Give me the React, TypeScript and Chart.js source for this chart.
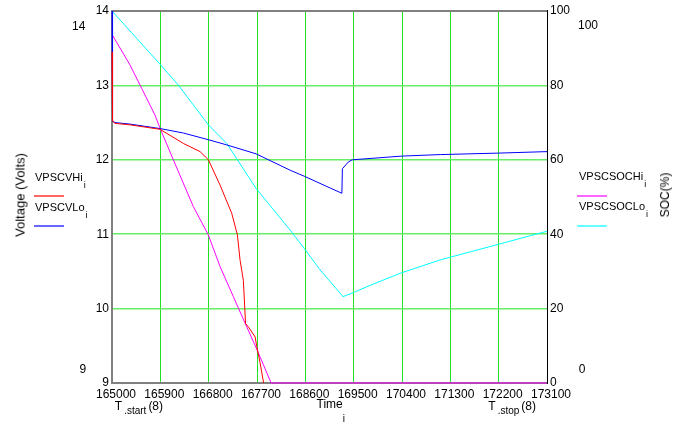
import React, { useEffect, useRef } from "react";
import { Chart, registerables } from "chart.js";

Chart.register(...registerables);

const FONT = '"Liberation Sans", Arial, Helvetica, sans-serif';

// Axis ranges
const timeMin = 165000;
const timeMax = 173100;
const timeStep = 900;
const voltMin = 9;
const voltMax = 14;
const voltStep = 1;
const socMin = 0;
const socMax = 100;
const socStep = 20;

// VPSCVHi (V) over time (s)
const vHiTime = [165000, 165010, 165056, 165335, 165520, 165894, 166329, 166640, 166795, 167012, 167230, 167335, 167385, 167446, 167487, 167553, 167665, 167696, 167758, 167823];
const vHiVolts = [13.45, 12.52, 12.49, 12.47, 12.45, 12.41, 12.22, 12.11, 12.0, 11.66, 11.28, 10.99, 10.65, 10.38, 9.8, 9.74, 9.62, 9.49, 9.27, 9.0];

// VPSCVLo (V) over time (s)
const vLoTime = [165000, 165010, 165056, 165335, 165894, 166329, 166794, 167137, 167683, 168317, 168578, 169065, 169281, 169290, 169400, 169472, 170400, 171112, 172200, 173100];
const vLoVolts = [14.0, 12.52, 12.5, 12.48, 12.42, 12.36, 12.27, 12.2, 12.08, 11.86, 11.78, 11.62, 11.55, 11.88, 11.97, 12.0, 12.05, 12.07, 12.09, 12.11];

// VPSCSOCHi (%) over time (s)
const socHiTime = [165000, 165335, 165553, 165801, 165894, 166142, 166515, 166794, 167012, 167260, 167478, 167702, 167963, 173100];
const socHiPct = [93.7, 85.5, 79.2, 72.0, 68.5, 60.0, 47.4, 39.8, 31.3, 23.2, 16.1, 8.9, 0, 0];

// VPSCSOCLo (%) over time (s)
const socLoTime = [165000, 165894, 166235, 166794, 167137, 167683, 168317, 168578, 168875, 169251, 169300, 169528, 169746, 170367, 171112, 172200, 173100];
const socLoPct = [100, 85.7, 80.1, 69.4, 64.4, 52.3, 41.1, 36.2, 30.4, 24.1, 23.2, 24.5, 25.9, 29.5, 33.1, 37.3, 40.8];

const pairs = (xs: number[], ys: number[]) => xs.map((x, i) => ({ x, y: ys[i] }));

// Plot frame: grey on top/left/bottom, black on the right (SOC) axis
const framePlugin = {
  id: "plotFrame",
  beforeDatasetsDraw(chart: any) {
    const { ctx, chartArea } = chart;
    const { left, right, top, bottom } = chartArea;
    ctx.save();
    ctx.strokeStyle = "#808080";
    ctx.lineWidth = 2;
    ctx.beginPath();
    ctx.moveTo(right, top);
    ctx.lineTo(left, top);
    ctx.lineTo(left, bottom);
    ctx.lineTo(right, bottom);
    ctx.stroke();
    ctx.strokeStyle = "#000000";
    ctx.lineWidth = 1;
    ctx.beginPath();
    ctx.moveTo(right + 0.5, top - 1);
    ctx.lineTo(right + 0.5, bottom + 1);
    ctx.stroke();
    ctx.restore();
  },
};

const tickFont = { family: FONT, size: 12 };

type TextProps = { x: number; y: number; size: number; children: React.ReactNode; style?: React.CSSProperties };

function Txt({ x, y, size, children, style }: TextProps) {
  return (
    <div
      style={{
        position: "absolute",
        left: x,
        top: y,
        fontSize: size,
        lineHeight: `${size}px`,
        fontFamily: FONT,
        color: "#000",
        whiteSpace: "nowrap",
        ...style,
      }}
    >
      {children}
    </div>
  );
}

function Sub({ children, size = 9, drop = 6.5, gap = 1 }: { children: React.ReactNode; size?: number; drop?: number; gap?: number }) {
  return (
    <span style={{ fontSize: size, position: "relative", top: drop, marginLeft: gap }}>{children}</span>
  );
}

function Swatch({ x, y, color }: { x: number; y: number; color: string }) {
  return (
    <svg width={30} height={2} style={{ position: "absolute", left: x, top: y - 0.5, overflow: "visible" }}>
      <line x1={0} y1={1} x2={30} y2={1} stroke={color} strokeWidth={1.2} />
    </svg>
  );
}

export default function App() {
  const canvasRef = useRef<HTMLCanvasElement | null>(null);

  useEffect(() => {
    if (!canvasRef.current) return;
    const chart = new Chart(canvasRef.current, {
      type: "line",
      data: {
        datasets: [
          { label: "VPSCVHi", data: pairs(vHiTime, vHiVolts), yAxisID: "y", borderColor: "#ff0000", borderWidth: 1, pointRadius: 0, tension: 0, clip: 3 },
          { label: "VPSCVLo", data: pairs(vLoTime, vLoVolts), yAxisID: "y", borderColor: "#0000ff", borderWidth: 1, pointRadius: 0, tension: 0, clip: 3 },
          { label: "VPSCSOCHi", data: pairs(socHiTime, socHiPct), yAxisID: "y1", borderColor: "#ff00ff", borderWidth: 1, pointRadius: 0, tension: 0, clip: 3 },
          { label: "VPSCSOCLo", data: pairs(socLoTime, socLoPct), yAxisID: "y1", borderColor: "#00ffff", borderWidth: 1, pointRadius: 0, tension: 0, clip: 3 },
        ],
      },
      options: {
        responsive: false,
        maintainAspectRatio: false,
        devicePixelRatio: 1,
        animation: false,
        layout: { padding: { top: 11, left: 0, right: 0, bottom: 0 } },
        plugins: { legend: { display: false }, tooltip: { enabled: false } },
        scales: {
          x: {
            type: "linear",
            min: timeMin,
            max: timeMax,
            afterFit: (s: any) => { s.height = 44; },
            border: { display: false },
            grid: { color: "#22e022", lineWidth: 1, drawTicks: false },
            ticks: {
              stepSize: timeStep,
              autoSkip: false,
              maxRotation: 0,
              padding: 4,
              labelOffset: 4,
              color: "#000",
              font: tickFont,
              callback: (v: any) => String(v),
            },
          },
          y: {
            type: "linear",
            position: "left",
            min: voltMin,
            max: voltMax,
            afterFit: (s: any) => { s.width = 112; },
            border: { display: false },
            grid: { color: "#66ee66", lineWidth: 1.5, drawTicks: false },
            ticks: { stepSize: voltStep, padding: 3, color: "#000", font: tickFont, callback: (v: any) => String(v) },
          },
          y1: {
            type: "linear",
            position: "right",
            min: socMin,
            max: socMax,
            afterFit: (s: any) => { s.width = 139; },
            border: { display: false },
            grid: { display: false, drawTicks: false },
            ticks: { stepSize: socStep, padding: 3, color: "#000", font: tickFont, callback: (v: any) => String(v) },
          },
        },
      },
      plugins: [framePlugin],
    } as any);
    return () => chart.destroy();
  }, []);

  return (
    <div style={{ position: "absolute", left: 0, top: 0, width: 686, height: 427, background: "#fff", overflow: "hidden" }}>
      <canvas ref={canvasRef} width={686} height={427} style={{ display: "block", position: "absolute", left: 0, top: 0 }} />

      {/* Left axis title and limits */}
      <Txt x={20} y={195} size={13} style={{ transform: "translate(-50%, -50%) rotate(-90deg)" }}>Voltage (Volts)</Txt>
      <Txt x={72} y={19.6} size={12}>14</Txt>
      <Txt x={79.5} y={363.1} size={12}>9</Txt>

      {/* Left legend */}
      <Txt x={35} y={172} size={11}>VPSCVHi<Sub>i</Sub></Txt>
      <Swatch x={34} y={195} color="#ff0000" />
      <Txt x={35} y={202} size={11}>VPSCVLo<Sub>i</Sub></Txt>
      <Swatch x={34} y={225} color="#0000ff" />

      {/* Right axis title and limits */}
      <Txt x={665} y={195} size={12} style={{ transform: "translate(-50%, -50%) rotate(-90deg)" }}>SOC(%)</Txt>
      <Txt x={578} y={19.1} size={12}>100</Txt>
      <Txt x={578.8} y={363.4} size={12}>0</Txt>

      {/* Right legend */}
      <Txt x={579} y={171} size={11}>VPSCSOCHi<Sub>i</Sub></Txt>
      <Swatch x={577} y={195} color="#ff00ff" />
      <Txt x={579} y={201.3} size={11}>VPSCSOCLo<Sub>i</Sub></Txt>
      <Swatch x={577} y={225} color="#00ffff" />

      {/* Bottom axis annotations */}
      <Txt x={114.8} y={399.5} size={12}>T<Sub size={10} drop={4.5} gap={2}>.start</Sub><span style={{ marginLeft: 2 }}>(8)</span></Txt>
      <Txt x={316.5} y={398} size={12}>Time<Sub size={10} drop={14} gap={0}>i</Sub></Txt>
      <Txt x={488.3} y={399.5} size={12}>T<Sub size={10} drop={4.5} gap={2}>.stop</Sub><span style={{ marginLeft: 2 }}>(8)</span></Txt>
    </div>
  );
}
